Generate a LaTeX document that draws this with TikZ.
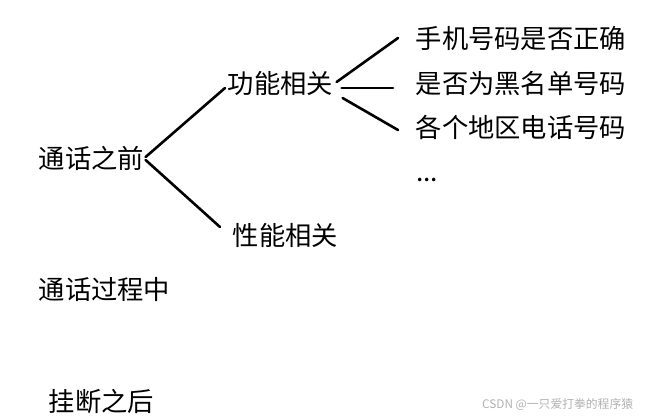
\documentclass[tikz,border=0pt]{standalone}
\usepackage{fontspec}
\setmainfont{Noto Sans CJK SC}
\begin{document}
\begin{tikzpicture}[x=1pt,y=-1pt,
  lbl/.style={anchor=west,inner sep=1.5pt,font=\fontsize{26.3}{30}\selectfont},
  wire/.style={line width=2.6pt,line cap=round},
  wmark/.style={anchor=west,inner sep=0pt,text=black!30,font=\fontsize{11.8}{13}\selectfont}]
\useasboundingbox[fill=white] (0,0) rectangle (651,418);
\node[lbl] (before) at (37,158) {通话之前};
\node[lbl] (func) at (226,83) {功能相关};
\node[lbl] (perf) at (231,235) {性能相关};
\node[lbl] (t1) at (414,38) {手机号码是否正确};
\node[lbl] (t2) at (414,84) {是否为黑名单号码};
\node[lbl] (t3) at (414,127) {各个地区电话号码};
\node[anchor=west,inner sep=0pt,font=\fontsize{26.3}{30}\selectfont] (dots) at (416,180) {...};
\node[lbl] (during) at (37,290) {通话过程中};
\node[lbl] (after) at (47,402) {挂断之后};
\node[wmark] (wm) at (482,405) {CSDN @一只爱打拳的程序猿};
\draw[wire] ([shift={(0,-1)}]before.east) -- ([shift={(-1,5)}]func.west);
\draw[wire] ([shift={(0,2)}]before.east) -- ([shift={(-11,-8)}]perf.west);
\draw[wire] ([shift={(2,-1)}]func.east) -- ([shift={(-16,0)}]t1.west);
\draw[wire] ([shift={(7,5)}]func.east) -- ([shift={(-21,4)}]t2.west);
\draw[wire] ([shift={(8,15)}]func.east) -- ([shift={(-16,3)}]t3.west);
\end{tikzpicture}
\end{document}
